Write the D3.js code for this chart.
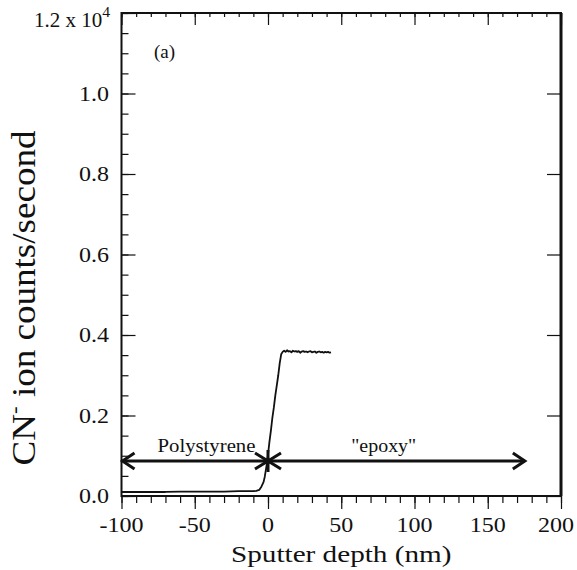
<!DOCTYPE html>
<html>
<head>
<meta charset="utf-8">
<script src="https://cdn.jsdelivr.net/npm/d3@7"></script>
<style>
  body { margin: 0; background: #fff; }
  text { font-family: "Liberation Serif", "Times New Roman", serif; fill: #111; }
</style>
</head>
<body>
<svg id="chart" width="577" height="570"></svg>
<script>
// sputter depth (nm) and CN- counts (x 10^4 counts/s)
const depth = [-100, -90, -80, -70, -60, -50, -40, -30, -20, -15, -10, -8, -6, -4.5, -3, -2.2, -1, 0, 1, 2, 3, 4, 5, 6, 7, 8, 9,
  10, 11, 12, 13, 14, 15, 16, 17, 18, 19, 20, 21, 22, 23, 24, 25, 26, 27, 28, 29, 30, 31, 32, 33, 34, 35, 36, 37, 38, 39, 40, 41, 42, 43];
const counts = [0.010, 0.010, 0.010, 0.010, 0.011, 0.011, 0.011, 0.011, 0.012, 0.012, 0.012, 0.013, 0.015, 0.023, 0.035, 0.048, 0.075, 0.103, 0.135, 0.163, 0.195, 0.22, 0.25, 0.275, 0.30, 0.33, 0.352,
  0.358, 0.361, 0.358, 0.362, 0.359, 0.360, 0.357, 0.361, 0.359, 0.360, 0.358, 0.360, 0.356, 0.359, 0.360, 0.358, 0.359, 0.357, 0.359, 0.360, 0.357, 0.358, 0.359, 0.356, 0.358, 0.359, 0.357, 0.358, 0.356, 0.358, 0.357, 0.358, 0.356, 0.357, 0.356];

const xMajor = [-100, -50, 0, 50, 100, 150, 200];
const xMinor = d3.range(-100, 201, 10);
const yMajor = [0, 0.2, 0.4, 0.6, 0.8, 1.0, 1.2];
const yMinor = d3.range(0, 1.2001, 0.05);
const xLabels = ["-100", "-50", "0", "50", "100", "150", "200"];
const yLabels = ["0.0", "0.2", "0.4", "0.6", "0.8", "1.0"];

// annotation: arrow spans and interface marker
const arrowSpan = [-100, 176];
const arrowLevel = 0.087;
const interfaceAt = 0;
const regionLabels = [
  { text: "Polystyrene", x: -42, len: 98 },
  { text: "\"epoxy\"", x: 79, len: 65 }
];

const svg = d3.select("#chart");
const m = { left: 121.5, right: 561, top: 13, bottom: 496 };

const x = d3.scaleLinear().domain([-100, 200]).range([m.left, m.right]);
const y = d3.scaleLinear().domain([0, 1.2]).range([m.bottom, m.top]);

svg.append("rect").attr("width", 577).attr("height", 570).attr("fill", "#fff");

function ticks(axis, tx, ty) {
  const g = svg.append("g").attr("transform", `translate(${tx},${ty})`).call(axis);
  g.select(".domain").remove();
  g.selectAll("line").attr("stroke", "#111").attr("stroke-width", 1.2);
  g.selectAll("text").remove();
}
// bottom: outward
ticks(d3.axisBottom(x).tickValues(xMinor).tickSize(7), 0, m.bottom);
ticks(d3.axisBottom(x).tickValues(xMajor).tickSize(13), 0, m.bottom);
// top: inward
ticks(d3.axisBottom(x).tickValues(xMinor).tickSize(4), 0, m.top);
ticks(d3.axisBottom(x).tickValues(xMajor).tickSize(12), 0, m.top);
// left: inward
ticks(d3.axisRight(y).tickValues(yMinor).tickSize(7), m.left, 0);
ticks(d3.axisRight(y).tickValues(yMajor).tickSize(14), m.left, 0);
// right: inward, major only
ticks(d3.axisLeft(y).tickValues(yMajor).tickSize(14), m.right, 0);

// frame
svg.append("rect")
  .attr("x", m.left).attr("y", m.top)
  .attr("width", m.right - m.left).attr("height", m.bottom - m.top)
  .attr("fill", "none").attr("stroke", "#111").attr("stroke-width", 2);
svg.append("line")
  .attr("x1", m.right).attr("x2", m.right).attr("y1", m.top).attr("y2", m.bottom)
  .attr("stroke", "#111").attr("stroke-width", 3);

// tick labels (last one nudged so it stays inside the page)
svg.append("g").selectAll("text").data(xMajor).join("text")
  .attr("transform", d => `translate(${Math.min(x(d), 556)},532) scale(1.2,1)`)
  .attr("text-anchor", "middle")
  .style("font-size", "20px")
  .text((d, i) => xLabels[i]);

svg.append("g").selectAll("text").data(yMajor.slice(0, 6)).join("text")
  .attr("transform", d => `translate(109,${y(d) + 7}) scale(1.2,1)`)
  .attr("text-anchor", "end")
  .style("font-size", "20px")
  .text((d, i) => yLabels[i]);

const topLab = svg.append("text")
  .attr("transform", "translate(110,27) scale(1.05,1)")
  .attr("text-anchor", "end")
  .style("font-size", "20px");
topLab.append("tspan").text("1.2 x 10");
topLab.append("tspan").attr("dy", -10).style("font-size", "15px").text("4");

// axis titles
svg.append("text")
  .attr("transform", `translate(${(m.left + m.right) / 2},562) scale(1.27,1)`)
  .attr("text-anchor", "middle")
  .style("font-size", "23px")
  .text("Sputter depth (nm)");

const yt = svg.append("text")
  .attr("transform", "translate(35,298) scale(1.27,1) rotate(-90)")
  .attr("text-anchor", "middle")
  .attr("textLength", 335)
  .attr("lengthAdjust", "spacingAndGlyphs")
  .style("font-size", "26px");
yt.append("tspan").text("CN");
yt.append("tspan").attr("dy", -11).style("font-size", "16px").text("-");
yt.append("tspan").attr("dy", 11).text(" ion counts/second");

svg.append("text")
  .attr("x", 154).attr("y", 58)
  .style("font-size", "19px")
  .text("(a)");

// data line
const line = d3.line().x((d, i) => x(depth[i])).y(d => y(d));
svg.append("path")
  .datum(counts)
  .attr("d", line)
  .attr("fill", "none")
  .attr("stroke", "#111")
  .attr("stroke-width", 1.8)
  .attr("stroke-linejoin", "round");

// arrows
const ay = y(arrowLevel);
const xl = x(arrowSpan[0]), xr = x(arrowSpan[1]), xs = x(interfaceAt);
const ann = svg.append("g").attr("stroke", "#111").attr("stroke-width", 3).attr("fill", "none");
ann.append("line").attr("x1", xl + 1).attr("x2", xr - 1).attr("y1", ay).attr("y2", ay);
ann.append("path").attr("d", `M${xl + 13},${ay - 8}L${xl + 1},${ay}L${xl + 13},${ay + 8}`);
ann.append("path").attr("d", `M${xr - 13},${ay - 8}L${xr - 1},${ay}L${xr - 13},${ay + 8}`);
// interface star
ann.append("path")
  .attr("d", `M${xs},${ay - 11}L${xs},${ay + 11}` +
    `M${xs - 13},${ay - 8}L${xs + 13},${ay + 8}` +
    `M${xs - 13},${ay + 8}L${xs + 13},${ay - 8}`);

svg.append("g").selectAll("text").data(regionLabels).join("text")
  .attr("x", d => x(d.x)).attr("y", 452)
  .attr("text-anchor", "middle")
  .attr("textLength", d => d.len)
  .attr("lengthAdjust", "spacingAndGlyphs")
  .style("font-size", "19px")
  .text(d => d.text);
</script>
</body>
</html>
